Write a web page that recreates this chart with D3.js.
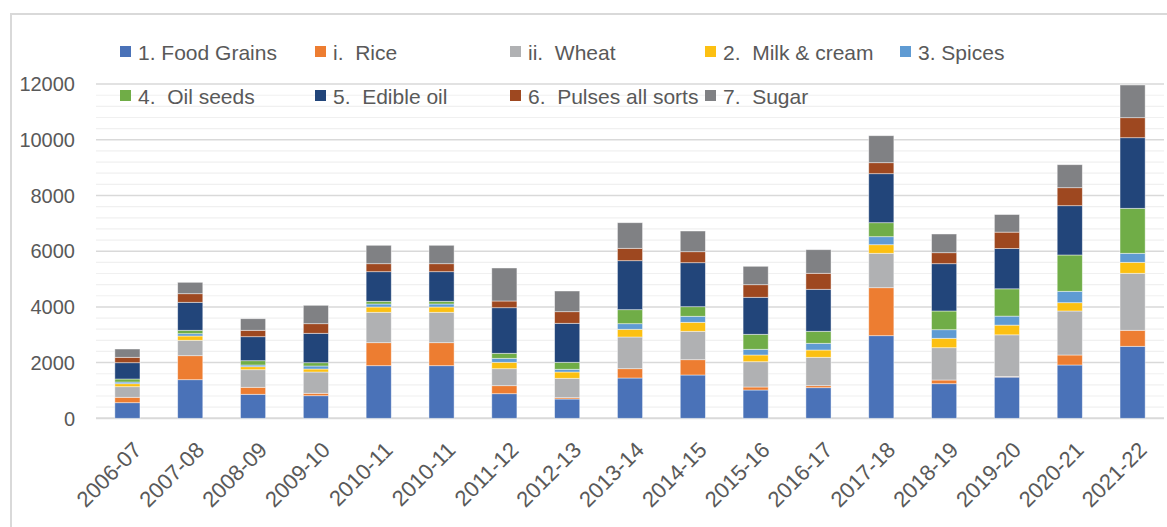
<!DOCTYPE html>
<html>
<head>
<meta charset="utf-8">
<script src="https://cdn.jsdelivr.net/npm/d3@7"></script>
<style>
  body { margin: 0; background: #fff; }
  text { font-family: "Liberation Sans", Arial, sans-serif; fill: #595959; }
</style>
</head>
<body>
<div class="chart"></div>
<script>
const years = ['2006-07','2007-08','2008-09','2009-10','2010-11','2010-11','2011-12','2012-13',
  '2013-14','2014-15','2015-16','2016-17','2017-18','2018-19','2019-20','2020-21','2021-22'];

// values, one per year
const foodGrains = [560,1386,862,811,1889,1889,883,693,1447,1555,1016,1099,2966,1242,1480,1914,2585];
const rice       = [194,862,251,87,826,826,288,47,334,549,108,72,1723,133,20,359,575];
const wheat      = [381,553,632,764,1091,1091,610,696,1138,1020,908,1019,1236,1160,1497,1580,2046];
const milk       = [107,154,108,108,190,190,230,226,277,323,241,262,308,338,349,298,395];
const spices     = [61,83,61,108,108,108,143,98,201,216,205,241,288,308,323,409,324];
const oilSeeds   = [108,122,154,118,97,97,180,251,503,344,538,431,502,672,980,1304,1615];
const edibleOil  = [585,1005,862,1056,1063,1063,1637,1400,1759,1580,1329,1508,1760,1698,1447,1770,2535];
const pulses     = [194,309,230,345,287,287,241,417,445,395,452,575,395,395,589,646,719];
const sugar      = [298,409,416,660,661,661,1185,743,919,743,661,847,969,672,632,826,1174];

const seriesNames = ['1. Food Grains','i.  Rice','ii.  Wheat','2.  Milk & cream','3. Spices',
  '4.  Oil seeds','5.  Edible oil','6.  Pulses all sorts','7.  Sugar'];
const seriesValues = [foodGrains, rice, wheat, milk, spices, oilSeeds, edibleOil, pulses, sugar];
const colors = ['#4a72b8','#ed7d31','#b0b1b3','#fcc012','#5f9bd3','#70ad47','#22457a','#9e4820','#808184'];
const yTicks = [0, 2000, 4000, 6000, 8000, 10000, 12000];

const W = 1167, H = 527;
const svg = d3.select('.chart').append('svg')
    .attr('width', W)
    .attr('height', H)

// outer frame
svg.append('path')
    .attr('d', `M11,${H} V14 H${W}`)
    .attr('fill', 'none')
    .attr('stroke', '#d9d9d9')
    .attr('stroke-width', 2)

const xScale = d3.scaleBand()
    .domain(d3.range(years.length))
    .range([96, 1164])
    .paddingInner(0.6)
    .paddingOuter(0.3)

const yScale = d3.scaleLinear()
    .domain([0, 12000])
    .range([418.3, 84.1])

// minor gridlines every 400
svg.append('g').selectAll('line')
    .data(d3.range(400, 12001, 400).filter(v => v % 2000 !== 0))
    .enter().append('line')
    .attr('x1', 96).attr('x2', 1164)
    .attr('y1', d => yScale(d)).attr('y2', d => yScale(d))
    .attr('stroke', '#f0f0f0')
    .attr('stroke-width', 1.2)

// major gridlines
svg.append('g').selectAll('line')
    .data(yTicks)
    .enter().append('line')
    .attr('x1', 96).attr('x2', 1164)
    .attr('y1', d => yScale(d)).attr('y2', d => yScale(d))
    .attr('stroke', '#d9d9d9')
    .attr('stroke-width', d => d === 0 ? 2 : 1.5)

// y labels
svg.append('g').selectAll('text')
    .data(yTicks)
    .enter().append('text')
    .attr('x', 75)
    .attr('y', d => yScale(d))
    .attr('dy', '0.36em')
    .attr('text-anchor', 'end')
    .style('font-size', '20px')
    .text(d => d)

// stacked bars
const table = years.map((y, i) => {
  const row = {i: i};
  seriesValues.forEach((s, k) => row['s' + k] = s[i]);
  return row;
});
const stack = d3.stack().keys(seriesValues.map((s, k) => 's' + k))(table);

svg.append('g').selectAll('g')
    .data(stack)
    .enter().append('g')
    .attr('fill', (d, k) => colors[k])
    .selectAll('rect')
    .data(d => d)
    .enter().append('rect')
    .attr('x', d => xScale(d.data.i))
    .attr('width', xScale.bandwidth())
    .attr('y', d => yScale(d[1]))
    .attr('height', d => yScale(d[0]) - yScale(d[1]))
    .attr('stroke', '#ffffff')
    .attr('stroke-opacity', 0.55)
    .attr('stroke-width', 0.8)

// x labels
svg.append('g').selectAll('text')
    .data(years)
    .enter().append('text')
    .attr('transform', (d, i) => `translate(${xScale(i) + xScale.bandwidth() / 2 + 10},446) rotate(-45)`)
    .attr('dy', '0.35em')
    .attr('text-anchor', 'end')
    .style('font-size', '22px')
    .text(d => d)

// legend, two rows
const legend = svg.append('g').selectAll('g')
    .data(seriesNames)
    .enter().append('g')
    .attr('transform', (d, k) => `translate(${120 + (k % 5) * 195},${k < 5 ? 52 : 96})`)

legend.append('rect')
    .attr('x', 0).attr('y', -6)
    .attr('width', 11).attr('height', 11)
    .attr('fill', (d, k) => colors[k])

legend.append('text')
    .attr('x', 18)
    .attr('dy', '0.36em')
    .style('font-size', '21px')
    .style('white-space', 'pre')
    .text(d => d)
</script>
</body>
</html>
